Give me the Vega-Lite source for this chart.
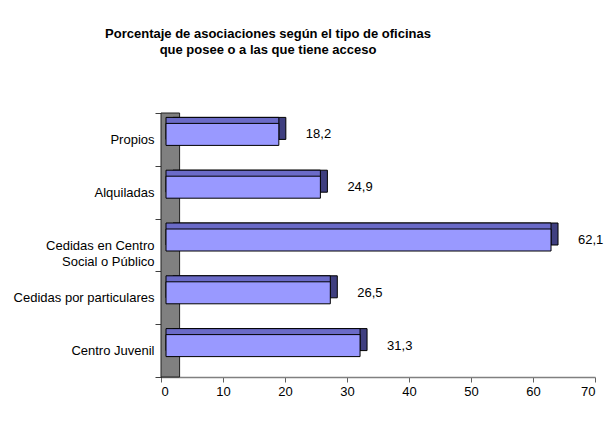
{
  "$schema": "https://vega.github.io/schema/vega-lite/v6.json",
  "autosize": {"type": "none"},
  "width": 434,
  "height": 264,
  "padding": {"left": 161, "top": 113, "right": 20, "bottom": 51},
  "background": "white",
  "title": {
    "text": ["Porcentaje de asociaciones según el tipo de oficinas", "que posee o a las que tiene acceso"],
    "anchor": "middle",
    "frame": "group",
    "dx": -110,
    "offset": 50,
    "font": "Liberation Sans",
    "fontSize": 13,
    "fontWeight": "bold",
    "color": "black",
    "lineHeight": 16
  },
  "config": {
    "locale": {"number": {"decimal": ",", "thousands": ".", "grouping": [3], "currency": ["", " €"]}},
    "view": {"stroke": null},
    "font": "Liberation Sans",
    "axis": {"labelFont": "Liberation Sans", "labelFontSize": 13, "labelColor": "black", "grid": false, "title": null}
  },
  "datasets": {
    "oficinas": [
      {"tipo": "Propios", "valor": 18.2},
      {"tipo": "Alquiladas", "valor": 24.9},
      {"tipo": "Cedidas en Centro Social o Público", "valor": 62.1},
      {"tipo": "Cedidas por particulares", "valor": 26.5},
      {"tipo": "Centro Juvenil", "valor": 31.3}
    ],
    "pared": [{"desde": 0, "hasta": 3}]
  },
  "layer": [
    {
      "data": {"name": "pared"},
      "mark": {"type": "rect", "fill": "#808080", "stroke": "#202020", "strokeWidth": 1},
      "encoding": {
        "x": {"field": "desde", "type": "quantitative", "scale": {"domain": [0, 70], "nice": false}},
        "x2": {"field": "hasta"}
      }
    },
    {
      "data": {"name": "oficinas"},
      "mark": {"type": "bar", "size": 22, "fill": "#3F3F80", "stroke": "black", "strokeWidth": 1, "xOffset": 12, "x2Offset": 12, "yOffset": -11},
      "encoding": {
        "y": {"field": "tipo", "type": "nominal", "sort": null, "scale": {"paddingInner": 0, "paddingOuter": 0},
          "axis": {"domainColor": "black", "tickColor": "#404040", "tickSize": 6, "tickBand": "extent", "labelPadding": 1, "labelLineHeight": 16,
            "labelExpr": "datum.value == 'Cedidas en Centro Social o Público' ? ['Cedidas en Centro', 'Social o Público'] : datum.value"}},
        "x": {"field": "valor", "type": "quantitative", "scale": {"domain": [0, 70], "nice": false},
          "axis": {"values": [0, 10, 20, 30, 40, 50, 60, 70], "domainColor": "#808080", "domainWidth": 1.5, "tickColor": "#606060", "tickSize": 5, "labelPadding": 3}}
      }
    },
    {
      "data": {"name": "oficinas"},
      "mark": {"type": "bar", "size": 22, "fill": "#6B6BC8", "stroke": "black", "strokeWidth": 1, "xOffset": 5, "x2Offset": 12, "yOffset": -11},
      "encoding": {
        "y": {"field": "tipo", "type": "nominal", "sort": null},
        "x": {"field": "valor", "type": "quantitative"}
      }
    },
    {
      "data": {"name": "oficinas"},
      "mark": {"type": "bar", "size": 22, "fill": "#9999FF", "stroke": "black", "strokeWidth": 1, "xOffset": 5, "x2Offset": 5, "yOffset": -5},
      "encoding": {
        "y": {"field": "tipo", "type": "nominal", "sort": null},
        "x": {"field": "valor", "type": "quantitative"}
      }
    },
    {
      "data": {"name": "oficinas"},
      "mark": {"type": "text", "align": "left", "baseline": "middle", "fontSize": 13, "font": "Liberation Sans", "color": "black", "xOffset": 32, "yOffset": -5},
      "encoding": {
        "y": {"field": "tipo", "type": "nominal", "sort": null},
        "x": {"field": "valor", "type": "quantitative"},
        "text": {"field": "valor", "type": "quantitative", "format": ".1f"}
      }
    }
  ]
}
